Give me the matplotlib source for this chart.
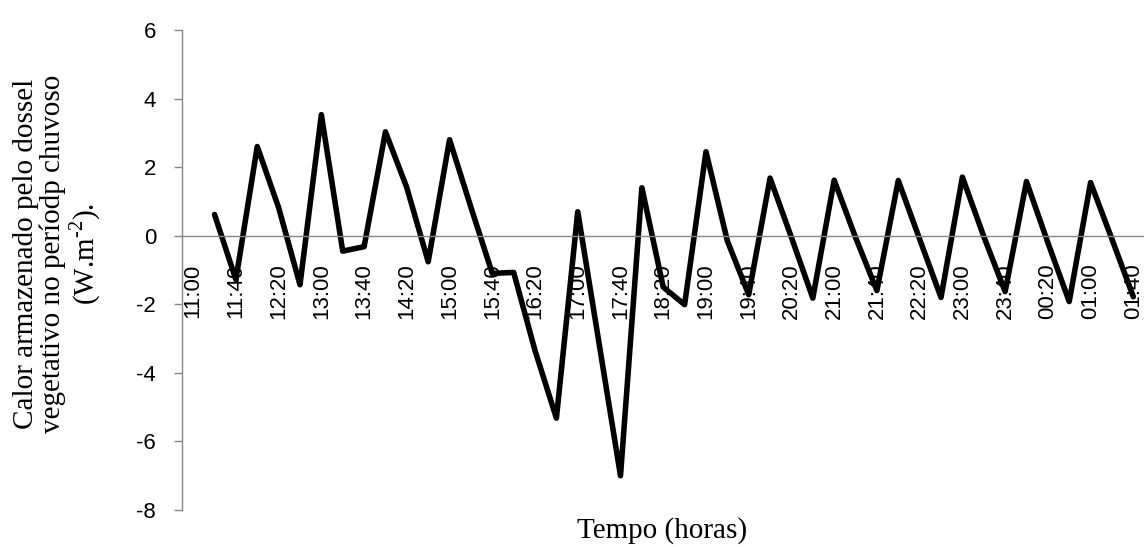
import numpy as np
import matplotlib
matplotlib.use('Agg')
import matplotlib.pyplot as plt

# categorias de 20 em 20 minutos (11:00 -> 01:40)
horas = ['11:00', '11:20', '11:40', '12:00', '12:20', '12:40', '13:00', '13:20',
         '13:40', '14:00', '14:20', '14:40', '15:00', '15:20', '15:40', '16:00',
         '16:20', '16:40', '17:00', '17:20', '17:40', '18:00', '18:20', '18:40',
         '19:00', '19:20', '19:40', '20:00', '20:20', '20:40', '21:00', '21:20',
         '21:40', '22:00', '22:20', '22:40', '23:00', '23:20', '23:40', '00:00',
         '00:20', '00:40', '01:00', '01:20', '01:40']

# calor armazenado (W.m-2); sem valor em 11:00
calor = [np.nan, 0.62, -1.28, 2.6, 0.82, -1.43, 3.53, -0.45,
         -0.32, 3.03, 1.4, -0.76, 2.8, 0.83, -1.1, -1.07,
         -3.35, -5.32, 0.7, -3.15, -7.0, 1.4, -1.5, -2.01,
         2.45, -0.15, -1.72, 1.68, -0.05, -1.82, 1.62, -0.05,
         -1.6, 1.61, -0.1, -1.8, 1.71, -0.02, -1.63, 1.58,
         -0.2, -1.92, 1.55, -0.1, -1.78]

y_ticks = [-8, -6, -4, -2, 0, 2, 4, 6]

plt.rcParams['mathtext.fontset'] = 'custom'
plt.rcParams['mathtext.rm'] = 'Liberation Serif'

fig = plt.figure(figsize=(11.44, 5.47), dpi=100)
ax = fig.add_axes([0.1595, 0.0676, 0.8405, 0.8776])

x = np.arange(len(horas))
ax.plot(x, calor, color='black', linewidth=4, solid_joinstyle='round',
        solid_capstyle='round')

ax.set_xlim(-0.5, len(horas) - 0.5)
ax.set_ylim(-8, 6)

# eixo x cruzando em zero
ax.spines['top'].set_visible(False)
ax.spines['right'].set_visible(False)
ax.spines['bottom'].set_position(('data', 0))
ax.spines['bottom'].set_color('#868686')
ax.spines['left'].set_color('#868686')
ax.spines['bottom'].set_linewidth(1.0)
ax.spines['left'].set_linewidth(1.0)

ax.set_yticks(y_ticks)
ax.set_yticklabels([str(v) for v in y_ticks], fontsize=16, family='Liberation Sans')
ax.tick_params(axis='y', direction='out', length=6, width=1.0, color='#868686', pad=13)

ax.set_xticks(x[::2])
ax.set_xticklabels(horas[::2], rotation=90, fontsize=16, family='Liberation Sans')
ax.tick_params(axis='x', length=0, pad=20)

fig.text(58 / 1144, 1 - 254 / 547,
         'Calor armazenado pelo dossel\nvegetativo no períodp chuvoso\n(W.m$^{\\text{-2}}$).',
         rotation=90, ha='center', va='center', multialignment='center',
         fontsize=21, family='Liberation Serif', linespacing=1.05)
fig.text(662 / 1144, 1 - 531 / 547, 'Tempo (horas)', ha='center', va='center',
         fontsize=21, family='Liberation Serif')

fig.savefig('out.png', dpi=100)
